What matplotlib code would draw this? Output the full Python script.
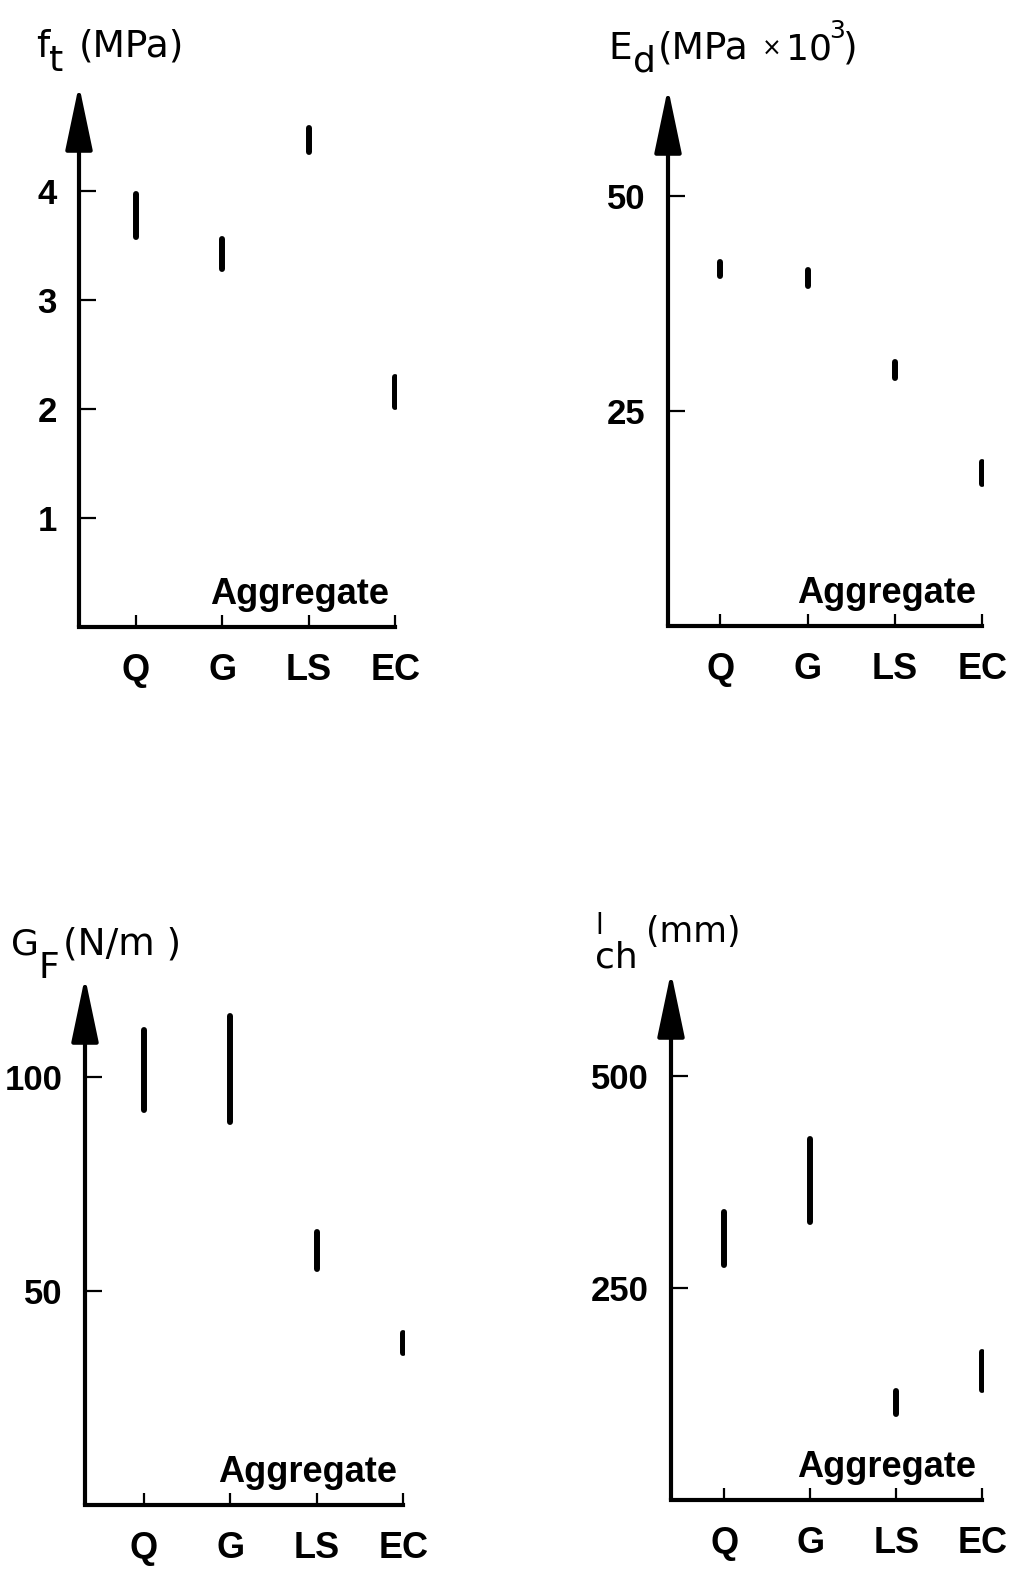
import matplotlib
matplotlib.use("Agg")
import matplotlib.pyplot as plt

plt.rcParams['font.family'] = ['Liberation Sans', 'DejaVu Sans']

W, H = 1019, 1583

categories = ["Q", "G", "LS", "EC"]

# tensile strength f_t (MPa): low / high ends of each range
ft_low = [3.58, 3.28, 4.36, 2.02]
ft_high = [3.97, 3.56, 4.58, 2.29]

# dynamic modulus E_d (MPa x 10^3)
ed_low = [40.7, 39.6, 28.9, 16.5]
ed_high = [42.4, 41.4, 30.7, 19.1]

# fracture energy G_F (N/m)
gf_low = [92.4, 89.6, 55.2, 35.5]
gf_high = [111.0, 114.3, 63.9, 40.2]

# characteristic length l_ch (mm)
lch_low = [277, 328, 101, 130]
lch_high = [340, 426, 128, 174]

fig = plt.figure(figsize=(W / 100, H / 100), dpi=100)


def title(pieces):
    # pieces: (text, x px, baseline px, size)
    for txt, x, y, size in pieces:
        fig.text(x / W, 1 - y / H, txt, ha="left", va="baseline", fontsize=size,
                 family="DejaVu Sans")


def panel(box, xlim, ylim, yticks, low, high):
    left, top, right, bottom = box
    ax = fig.add_axes([left / W, 1 - bottom / H, (right - left) / W, (bottom - top) / H])
    ax.set_xlim(*xlim)
    ax.set_ylim(*ylim)
    for s in ["top", "right", "left"]:
        ax.spines[s].set_visible(False)
    ax.spines["bottom"].set_linewidth(3)
    ax.spines["bottom"].set_bounds(xlim[0], 3)
    ax.patch.set_alpha(0)

    # y axis drawn as an arrow
    ax.annotate("", xy=(0, 1), xytext=(0, 0), xycoords="axes fraction",
                arrowprops=dict(arrowstyle="-|>,head_length=2.0,head_width=0.42",
                                mutation_scale=20, lw=3, color="black",
                                shrinkA=0, shrinkB=0))

    ax.set_xticks(range(len(categories)))
    ax.set_xticklabels(categories, fontsize=26, fontweight="bold")
    ax.set_yticks(yticks)
    ax.set_yticklabels([str(t) for t in yticks], fontsize=25, fontweight="bold")
    ax.tick_params(axis="x", direction="in", length=9, width=1.6, pad=19)
    ax.tick_params(axis="y", direction="in", length=12, width=1.6, pad=16)

    ax.vlines(range(len(categories)), low, high, colors="black", lw=4.3, capstyle="round")

    ax.text(2.93, 0.028 * ylim[1], "Aggregate", ha="right", va="bottom",
            fontsize=26, fontweight="bold")
    return ax


panel((79, 85, 397, 627), (-0.66, 3.02), (0, 4.97), [1, 2, 3, 4], ft_low, ft_high)
title([("f", 36, 57, 27), ("t", 49, 71, 26), ("(MPa)", 79, 57, 27)])

panel((668, 88, 984, 626), (-0.6, 3.02), (0, 62.6), [25, 50], ed_low, ed_high)
title([("E", 608, 59, 27), ("d", 633, 72, 26), ("(MPa", 658, 59, 27),
       ("×", 762, 56, 17), ("10", 786, 59, 26), ("3", 829, 38, 18), (")", 843, 59, 27)])

panel((85, 977, 405, 1505), (-0.68, 3.02), (0, 123.4), [50, 100], gf_low, gf_high)
title([("G", 11, 955, 26), ("F", 39, 978, 26), ("(N/m )", 63, 955, 27)])

panel((671, 972, 984, 1500), (-0.62, 3.02), (0, 622.6), [250, 500], lch_low, lch_high)
title([("l", 595, 934, 20), ("ch", 595, 967, 26), ("(mm)", 646, 942, 25)])

fig.savefig("out.png", dpi=100)
